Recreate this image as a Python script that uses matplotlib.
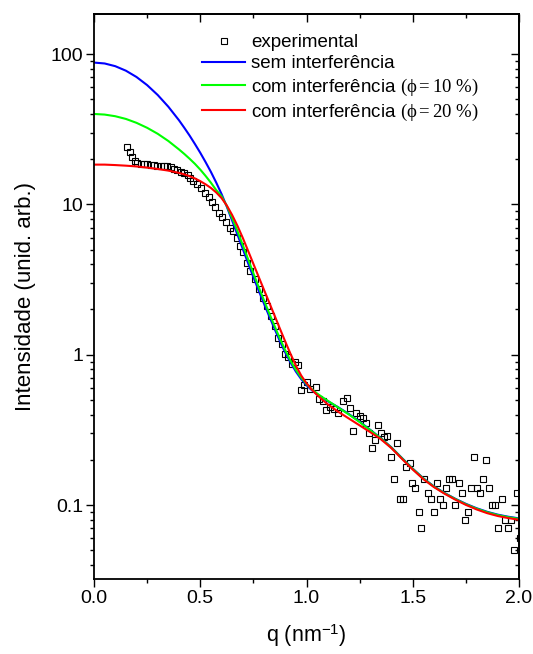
import matplotlib
matplotlib.use("Agg")
import matplotlib.pyplot as plt
from matplotlib.ticker import LogLocator, FixedLocator, FixedFormatter, MultipleLocator, NullFormatter
import numpy as np

plt.rcParams['font.family'] = ['Liberation Sans', 'DejaVu Sans']
plt.rcParams['mathtext.fontset'] = 'custom'
plt.rcParams['mathtext.rm'] = 'Liberation Serif'
plt.rcParams['mathtext.it'] = 'Liberation Serif:italic'
plt.rcParams['mathtext.sf'] = 'Liberation Sans'

# experimental data
q_exp = [0.157, 0.170, 0.180, 0.193, 0.204, 0.220, 0.236, 0.251, 0.267, 0.283,
         0.298, 0.314, 0.330, 0.345, 0.361, 0.377, 0.392, 0.408, 0.424, 0.440,
         0.452, 0.468, 0.487, 0.504, 0.523, 0.539, 0.554, 0.570, 0.586, 0.601,
         0.622, 0.641, 0.653, 0.674, 0.688, 0.700, 0.719, 0.735, 0.758, 0.778,
         0.794, 0.813, 0.832, 0.853, 0.867, 0.884, 0.900, 0.915, 0.931, 0.947,
         0.962, 0.973, 0.986, 1.002, 1.017, 1.046, 1.057, 1.077, 1.090, 1.109,
         1.130, 1.148, 1.174, 1.190, 1.206, 1.221, 1.234, 1.250, 1.266, 1.278,
         1.292, 1.309, 1.322, 1.336, 1.350, 1.366, 1.380, 1.396, 1.410, 1.426,
         1.438, 1.454, 1.468, 1.485, 1.498, 1.512, 1.528, 1.540, 1.554, 1.570,
         1.584, 1.598, 1.614, 1.627, 1.642, 1.657, 1.671, 1.686, 1.700, 1.716,
         1.730, 1.744, 1.758, 1.772, 1.788, 1.802, 1.817, 1.831, 1.846, 1.861,
         1.875, 1.889, 1.903, 1.919, 1.933, 1.947, 1.962, 1.977, 1.991, 2.003]
I_exp = [24.2, 22.4, 20.7, 19.5, 18.8, 18.7, 18.5, 18.5, 18.3, 18.2,
         18.1, 18.0, 17.9, 18.0, 17.7, 17.1, 16.9, 16.5, 16.3, 15.8,
         15.1, 14.3, 13.6, 12.8, 12.0, 11.2, 10.4, 9.6, 8.8, 8.3,
         7.7, 7.0, 6.7, 6.0, 5.3, 4.8, 4.1, 3.6, 3.2, 2.75,
         2.4, 2.12, 1.82, 1.55, 1.30, 1.18, 1.01, 0.96, 0.87, 0.90,
         0.85, 0.585, 0.63, 0.655, 0.59, 0.61, 0.51, 0.495, 0.43, 0.45,
         0.435, 0.41, 0.49, 0.515, 0.445, 0.31, 0.41, 0.39, 0.38, 0.35,
         0.30, 0.24, 0.27, 0.34, 0.30, 0.285, 0.29, 0.21, 0.15, 0.26,
         0.11, 0.11, 0.18, 0.19, 0.14, 0.13, 0.09, 0.07, 0.15, 0.12,
         0.11, 0.09, 0.14, 0.11, 0.10, 0.13, 0.15, 0.15, 0.10, 0.14,
         0.12, 0.08, 0.09, 0.13, 0.21, 0.13, 0.12, 0.15, 0.20, 0.13,
         0.10, 0.10, 0.07, 0.11, 0.08, 0.07, 0.08, 0.05, 0.12, 0.06]

# model curves (values read as log10 of intensity)
q_mod = [0.00, 0.05, 0.10, 0.15, 0.20, 0.25, 0.30, 0.35, 0.40, 0.425,
         0.45, 0.475, 0.50, 0.525, 0.55, 0.575, 0.60, 0.625, 0.65, 0.675,
         0.70, 0.725, 0.75, 0.775, 0.80, 0.825, 0.85, 0.875, 0.90, 0.925,
         0.95, 0.975, 1.00, 1.025, 1.05, 1.075, 1.10, 1.15, 1.20, 1.25,
         1.30, 1.35, 1.40, 1.45, 1.50, 1.55, 1.60, 1.65, 1.70, 1.75,
         1.80, 1.85, 1.90, 1.95, 2.00]
logI_sem = [1.944, 1.938, 1.920, 1.890, 1.848, 1.794, 1.728, 1.650, 1.560, 1.510,
            1.458, 1.402, 1.344, 1.282, 1.217, 1.146, 1.070, 0.985, 0.893, 0.800,
            0.705, 0.610, 0.517, 0.427, 0.340, 0.255, 0.172, 0.090, 0.015, -0.052,
            -0.112, -0.162, -0.203, -0.236, -0.263, -0.287, -0.309, -0.350, -0.395, -0.445,
            -0.500, -0.555, -0.617, -0.688, -0.758, -0.822, -0.876, -0.920, -0.958, -0.992,
            -1.021, -1.045, -1.064, -1.078, -1.089]
logI_10 = [1.602, 1.598, 1.587, 1.569, 1.543, 1.510, 1.470, 1.422, 1.366, 1.336,
           1.304, 1.270, 1.232, 1.190, 1.145, 1.096, 1.055, 0.990, 0.910, 0.823,
           0.730, 0.636, 0.542, 0.450, 0.362, 0.274, 0.190, 0.107, 0.030, -0.040,
           -0.100, -0.152, -0.195, -0.230, -0.258, -0.283, -0.306, -0.352, -0.398, -0.448,
           -0.502, -0.557, -0.619, -0.690, -0.760, -0.824, -0.878, -0.922, -0.960, -0.995,
           -1.024, -1.048, -1.067, -1.081, -1.092]
logI_20 = [1.265, 1.265, 1.262, 1.258, 1.253, 1.245, 1.236, 1.225, 1.210, 1.200,
           1.188, 1.173, 1.155, 1.134, 1.110, 1.080, 1.043, 0.993, 0.930, 0.858,
           0.778, 0.692, 0.605, 0.518, 0.432, 0.346, 0.260, 0.173, 0.088, 0.005,
           -0.072, -0.138, -0.190, -0.232, -0.268, -0.300, -0.330, -0.380, -0.425, -0.470,
           -0.515, -0.562, -0.622, -0.694, -0.764, -0.828, -0.881, -0.925, -0.964, -0.999,
           -1.029, -1.054, -1.073, -1.087, -1.098]

W, H = 533, 654
fig = plt.figure(figsize=(W / 100, H / 100), dpi=100)
ax = fig.add_axes([94 / W, 1 - 579 / H, (519 - 94) / W, (579 - 14) / H])

ax.plot(q_exp, I_exp, linestyle='none', marker='s', markersize=4.9,
        markerfacecolor='none', markeredgecolor='black', markeredgewidth=0.8,
        label='experimental')
ax.plot(q_mod, 10 ** np.array(logI_sem), color='#0000FF', lw=1.5,
        label='sem interferência')
ax.plot(q_mod, 10 ** np.array(logI_10), color='#00FF00', lw=1.5,
        label=r'com interferência $(\mathrm{\phi = 10\ \%})$')
ax.plot(q_mod, 10 ** np.array(logI_20), color='#FF0000', lw=1.5,
        label=r'com interferência $(\mathrm{\phi = 20\ \%})$')

ax.set_yscale('log')
ax.set_xlim(0, 2.0)
ax.set_ylim(0.0322, 185)

xt = [0.0, 0.5, 1.0, 1.5, 2.0]
xtl = ['0.0', '0.5', '1.0', '1.5', '2.0']
yt = [0.1, 1, 10, 100]
ytl = ['0.1', '1', '10', '100']

ax.xaxis.set_major_locator(FixedLocator(xt))
ax.xaxis.set_major_formatter(FixedFormatter(xtl))
ax.xaxis.set_minor_locator(MultipleLocator(0.25))
ax.yaxis.set_major_locator(FixedLocator(yt))
ax.yaxis.set_major_formatter(FixedFormatter(ytl))
ax.yaxis.set_minor_locator(LogLocator(base=10, subs=np.arange(2, 10)))
ax.yaxis.set_minor_formatter(NullFormatter())

ax.tick_params(axis='both', which='major', direction='out', length=5.5, width=1,
               labelsize=14, pad=2.5)
ax.tick_params(axis='both', which='minor', direction='out', length=3, width=1)

# mirrored ticks on top/right pointing inward
secx = ax.secondary_xaxis('top')
secx.xaxis.set_major_locator(FixedLocator(xt))
secx.xaxis.set_minor_locator(MultipleLocator(0.25))
secx.tick_params(which='major', direction='in', length=5.5, width=1, labeltop=False)
secx.tick_params(which='minor', direction='in', length=3, width=1)
secy = ax.secondary_yaxis('right')
secy.set_yscale('log')
secy.yaxis.set_major_locator(FixedLocator(yt))
secy.yaxis.set_minor_locator(LogLocator(base=10, subs=np.arange(2, 10)))
secy.yaxis.set_minor_formatter(NullFormatter())
secy.tick_params(which='major', direction='in', length=5.5, width=1, labelright=False)
secy.tick_params(which='minor', direction='in', length=3, width=1)
for s in list(ax.spines.values()) + [secx.spines['top'], secy.spines['right']]:
    s.set_linewidth(1.3)

ax.set_xlabel(r'q (nm$^{\mathsf{-1}}$)', fontsize=15.5, labelpad=11)
ax.set_ylabel('Intensidade (unid. arb.)', fontsize=16, labelpad=10)

ax.legend(loc='upper left',
          bbox_to_anchor=((202 - 94) / (519 - 94), 1 - (34 - 14) / (579 - 14)),
          frameon=False, fontsize=13.5, handlelength=2.3, handletextpad=0.32,
          labelspacing=0.22, borderpad=0, borderaxespad=0, numpoints=1)

fig.savefig('out.png', dpi=100)
